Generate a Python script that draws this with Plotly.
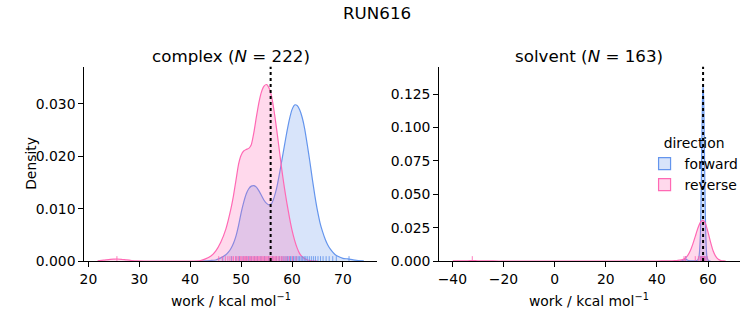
import plotly.graph_objects as go

FWD = "#6495ED"
REV = "#FF69B4"
FWD_FILL = "rgba(100,149,237,0.25)"
REV_FILL = "rgba(255,105,180,0.25)"

# ---- complex leg: KDE curves ----
complex_fwd_x = [42, 44, 45, 46, 47, 47.5, 48, 48.5, 49, 49.5, 50, 50.5, 51, 51.5, 52, 52.5, 53, 53.5,
                 54, 54.5, 55, 55.5, 56, 56.5, 57, 57.5, 58, 58.5, 59, 59.5, 60, 60.5, 61, 61.5, 62,
                 62.5, 63, 63.5, 64, 64.5, 65, 65.5, 66, 66.5, 67, 67.5, 68, 68.5, 69, 70, 71, 72, 73, 74.1]
complex_fwd_y = [0.0, 0.0001, 0.0002, 0.0006, 0.0012, 0.0017, 0.0024, 0.0034, 0.0048, 0.0068, 0.0092,
                 0.0112, 0.0128, 0.0138, 0.0143, 0.0144, 0.0141, 0.0134, 0.0125, 0.0116, 0.0110, 0.0107,
                 0.0110, 0.0122, 0.0140, 0.0165, 0.0192, 0.0220, 0.0247, 0.0271, 0.0289, 0.0298, 0.0297,
                 0.0289, 0.0274, 0.0252, 0.0222, 0.0190, 0.0156, 0.0124, 0.0096, 0.0073, 0.0056, 0.0042,
                 0.0031, 0.0023, 0.0017, 0.0012, 0.0009, 0.0005, 0.0004, 0.0002, 0.0001, 0.00002]

complex_rev_x = [21.8, 23, 24, 25, 25.6, 26.5, 27.5, 28.5, 29.5, 31, 40, 42, 43, 44, 45, 46, 47, 48, 48.5,
                 49, 49.5, 50, 50.5, 51, 51.5, 52, 52.5, 53, 53.5, 54, 54.5, 55, 55.5, 56, 56.5, 57,
                 57.5, 58, 58.5, 59, 59.5, 60, 60.5, 61, 61.5, 62, 63, 64, 65]
complex_rev_y = [0.00005, 0.00015, 0.00028, 0.00035, 0.00038, 0.00033, 0.0002, 0.0001, 0.00003, 0.0, 0.0,
                 0.0001, 0.0004, 0.0009, 0.0019, 0.0036, 0.0061, 0.0100, 0.0125, 0.0155, 0.0185, 0.0202,
                 0.0210, 0.0213, 0.0215, 0.0222, 0.0245, 0.0275, 0.0303, 0.0323, 0.0334, 0.0337, 0.0330,
                 0.0314, 0.0285, 0.0250, 0.0212, 0.0174, 0.0140, 0.0110, 0.0083, 0.0059, 0.0040, 0.0025,
                 0.0014, 0.0008, 0.0002, 0.00005, 0.0]

# ---- solvent leg: KDE curves ----
solvent_fwd_x = [49, 50, 51, 51.5, 52, 53, 54, 55, 56, 56.5, 57, 57.3, 57.6, 57.8, 58.05, 58.3, 58.5,
                 58.8, 59.1, 59.5, 60, 60.5, 61]
solvent_fwd_y = [0.0, 0.0003, 0.0012, 0.0012, 0.0006, 0.0001, 0.00005, 0.0001, 0.0008, 0.004, 0.02, 0.05,
                 0.095, 0.12, 0.1318, 0.12, 0.095, 0.05, 0.02, 0.004, 0.0006, 0.0001, 0.0]

solvent_rev_x = [-39.8, -37, -34, -32.2, -30, -27, -24, -20, 40, 44, 46, 48, 49, 50, 51, 52, 53, 54, 55,
                 56, 57, 57.8, 58.5, 59, 60, 61, 62, 63, 64, 65, 66, 66.9]
solvent_rev_y = [0.00003, 0.0001, 0.0002, 0.00025, 0.0002, 0.0001, 0.00003, 0.0, 0.0, 0.0001, 0.0002,
                 0.0004, 0.0006, 0.0010, 0.0020, 0.0040, 0.0075, 0.0125, 0.0185, 0.0245, 0.0290, 0.0305,
                 0.0298, 0.0280, 0.0215, 0.0140, 0.0075, 0.0035, 0.0013, 0.0004, 0.0001, 0.0]

# ---- rug samples (work values) ----
complex_rev_rug = [25.6, 45.6, 46.3, 46.9, 47.4, 47.8, 48.2, 48.5, 48.9, 49.2, 49.5, 49.8, 50.0, 50.2,
                   50.5, 50.7, 50.9, 51.1, 51.3, 51.6, 51.8, 52.0, 52.3, 52.5, 52.7, 52.9, 53.1, 53.3,
                   53.5, 53.7, 53.9, 54.1, 54.3, 54.5, 54.7, 54.9, 55.1, 55.3, 55.5, 55.7, 55.9, 56.1,
                   56.3, 56.5, 56.8, 57.0, 57.3, 57.6, 57.9, 58.2, 58.6, 59.0, 59.5, 60.1, 60.8]
complex_fwd_rug = [46.4, 48.1, 49.0, 49.7, 50.4, 51.0, 51.5, 52.0, 52.6, 53.2, 53.9, 54.6, 55.4, 56.2,
                   56.9, 57.5, 58.0, 58.4, 58.8, 59.1, 59.4, 59.7, 60.0, 60.3, 60.6, 60.9, 61.2, 61.5,
                   61.8, 62.1, 62.4, 62.7, 63.0, 63.4, 63.8, 64.2, 64.6, 65.1, 65.6, 66.1, 66.7, 67.3,
                   68.0, 68.7, 71.2]
solvent_rev_rug = [-32.2, 50.6, 51.2, 55.0, 56.2, 56.9, 57.3, 57.6, 57.9, 58.2, 58.5, 58.9, 59.6]
solvent_fwd_rug = [51.3, 57.0, 57.5, 57.8, 58.0, 58.1, 58.3, 58.6, 59.2]

# estimates (dotted lines)
complex_estimate = 55.8
solvent_estimate = 58.05

complex_ticks = [20, 30, 40, 50, 60, 70]
solvent_ticks = [-40, -20, 0, 20, 40, 60]
complex_yticks = [0.0, 0.01, 0.02, 0.03]
solvent_yticks = [0.0, 0.025, 0.05, 0.075, 0.1, 0.125]

FONT = "DejaVu Sans"
fig = go.Figure()


def kde(x, y, line, fill, xa, ya):
    fig.add_trace(go.Scatter(x=x, y=y, mode="lines", xaxis=xa, yaxis=ya,
                             line=dict(color=line, width=1.2, shape="spline", smoothing=0.5),
                             fill="tozeroy", fillcolor=fill, showlegend=False, hoverinfo="skip"))


kde(complex_fwd_x, complex_fwd_y, FWD, FWD_FILL, "x", "y")
kde(complex_rev_x, complex_rev_y, REV, REV_FILL, "x", "y")
kde(solvent_fwd_x, solvent_fwd_y, FWD, FWD_FILL, "x2", "y2")
kde(solvent_rev_x, solvent_rev_y, REV, REV_FILL, "x2", "y2")

# legend entries
for name, line, fill in [("forward", FWD, FWD_FILL), ("reverse", REV, REV_FILL)]:
    fig.add_trace(go.Bar(x=[None], y=[None], name=name, xaxis="x2", yaxis="y2",
                         marker=dict(color=fill, line=dict(color=line, width=1.2))))

shapes = []
for vals, color, xr, yr in [(complex_fwd_rug, FWD, "x", "y domain"),
                            (complex_rev_rug, REV, "x", "y domain"),
                            (solvent_fwd_rug, FWD, "x2", "y2 domain"),
                            (solvent_rev_rug, REV, "x2", "y2 domain")]:
    for v in vals:
        shapes.append(dict(type="line", xref=xr, yref=yr, x0=v, x1=v, y0=0, y1=0.025,
                           line=dict(color=color, width=1), opacity=0.85))
for v, xr, yr in [(complex_estimate, "x", "y domain"), (solvent_estimate, "x2", "y2 domain")]:
    shapes.append(dict(type="line", xref=xr, yref=yr, x0=v, x1=v, y0=0, y1=1,
                       line=dict(color="black", width=2, dash="dot")))

axis_common = dict(showline=True, linecolor="black", linewidth=1.1, ticks="outside", ticklen=5,
                   tickwidth=1.1, tickcolor="black", showgrid=False, zeroline=False,
                   tickfont=dict(size=13.9, color="black"), mirror=False, automargin=False)

XD1 = [0.1120, 0.5007]
XD2 = [0.5834, 0.9821]
YD = [0.1969, 0.7948]
TXT = dict(size=13.9, color="black")
xlabel = "work / kcal mol<sup>−1</sup>"

fig.update_layout(
    width=753, height=325, autosize=False,
    margin=dict(l=0, r=0, t=0, b=0),
    paper_bgcolor="white", plot_bgcolor="white",
    font=dict(family=FONT, color="black"),
    barmode="overlay",
    xaxis=dict(domain=XD1, range=[19.2, 76.7], tickvals=complex_ticks, anchor="y", **axis_common),
    yaxis=dict(domain=YD, range=[0, 0.0371], tickvals=complex_yticks, tickformat=".3f", anchor="x",
               **axis_common),
    xaxis2=dict(domain=XD2, range=[-45.1, 72.3], tickvals=solvent_ticks, anchor="y2", **axis_common),
    yaxis2=dict(domain=YD, range=[0, 0.1456], tickvals=solvent_yticks, tickformat=".3f", anchor="x2",
                **axis_common),
    shapes=shapes,
    legend=dict(x=0.856, y=0.60, xanchor="left", yanchor="top", bgcolor="rgba(0,0,0,0)",
                font=TXT, itemwidth=30,
                title=dict(text="direction", side="top center", font=TXT)),
    annotations=[
        dict(text="RUN616", x=0.5, y=1 - 13 / 325, xref="paper", yref="paper", showarrow=False,
             xanchor="center", yanchor="middle", font=dict(size=16.7, color="black")),
        dict(text="complex (<i>N</i> = 222)", x=sum(XD1) / 2, y=YD[1], xref="paper",
             yref="paper", showarrow=False, xanchor="center", yanchor="bottom", yshift=-1,
             font=dict(size=16.7, color="black")),
        dict(text="solvent (<i>N</i> = 163)", x=sum(XD2) / 2, y=YD[1], xref="paper",
             yref="paper", showarrow=False, xanchor="center", yanchor="bottom", yshift=-1,
             font=dict(size=16.7, color="black")),
        dict(text=xlabel, x=sum(XD1) / 2, y=1 - 300 / 325, xref="paper", yref="paper",
             showarrow=False, xanchor="center", yanchor="middle", font=TXT),
        dict(text=xlabel, x=sum(XD2) / 2, y=1 - 300 / 325, xref="paper", yref="paper",
             showarrow=False, xanchor="center", yanchor="middle", font=TXT),
        dict(text="Density", x=31 / 753, y=sum(YD) / 2, xref="paper", yref="paper", textangle=-90,
             showarrow=False, xanchor="center", yanchor="middle", font=TXT),
    ],
)

fig.write_html("out.html")
